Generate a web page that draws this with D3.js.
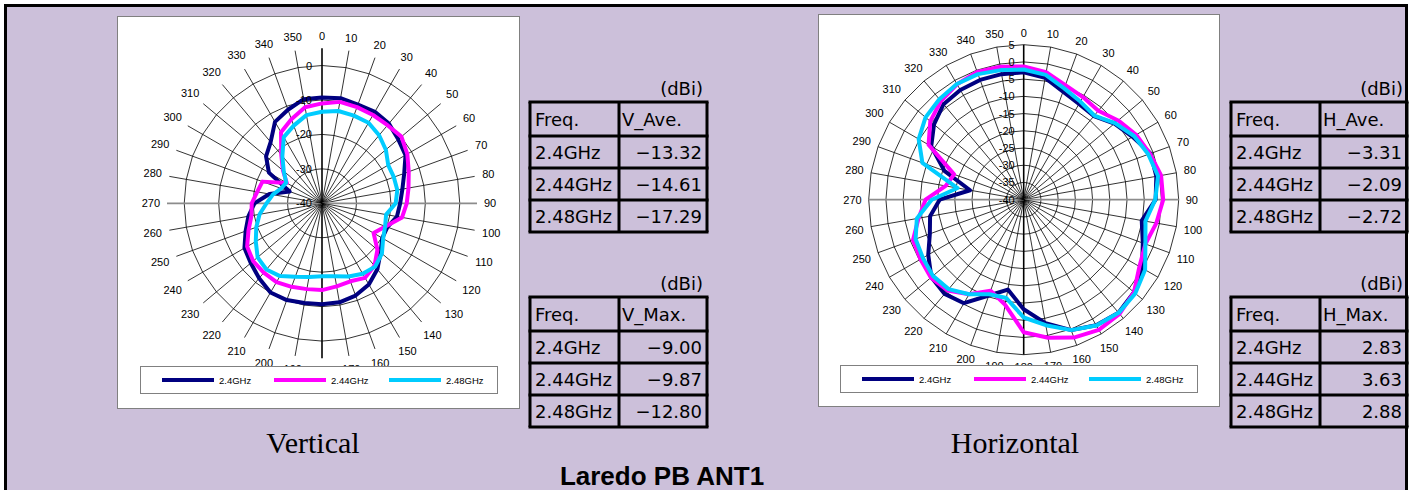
<!DOCTYPE html>
<html>
<head>
<meta charset="utf-8">
<script src="https://cdn.jsdelivr.net/npm/d3@7"></script>
<style>
  body { margin: 0; background: #fff; }
  svg { display: block; }
</style>
</head>
<body>
<svg id="sheet" width="1409" height="490"></svg>
<script>
// angle categories (degrees)
const angles = [0, 10, 20, 30, 40, 50, 60, 70, 80, 90, 100, 110, 120, 130, 140, 150, 160, 170,
  180, 190, 200, 210, 220, 230, 240, 250, 260, 270, 280, 290, 300, 310, 320, 330, 340, 350];

const freqs = ["2.4GHz", "2.44GHz", "2.48GHz"];

// vertical polarisation, dBi
const v24 = [-9.3, -9.0, -9.5, -9.3, -9.8, -11.1, -12.0, -14.6, -16.3, -17.3, -17.9, -19.8,
  -19.8, -17.8, -15.0, -12.8, -11.5, -10.8, -10.7, -10.6, -10.1, -10.1, -11.6, -13.0,
  -14.0, -16.4, -18.3, -20.4, -24.5, -30.0, -22.2, -18.8, -16.8, -12.7, -11.1, -9.3];
const v244 = [-11.0, -10.1, -10.3, -10.4, -10.4, -9.9, -11.4, -13.2, -14.5, -15.4, -16.4, -20.4,
  -22.7, -19.0, -16.3, -15.0, -15.9, -15.5, -14.8, -14.7, -14.2, -13.6, -13.7, -13.9,
  -14.9, -17.3, -19.2, -19.6, -20.9, -21.6, -28.2, -25.2, -21.6, -16.2, -14.0, -11.7];
const v248 = [-13.4, -12.8, -12.9, -13.0, -14.2, -15.8, -17.8, -17.8, -17.8, -18.6, -21.1, -20.5,
  -19.5, -17.3, -16.0, -16.4, -17.4, -18.5, -18.8, -18.3, -17.3, -15.6, -14.9, -15.6,
  -17.8, -19.7, -21.6, -23.9, -25.5, -27.4, -28.0, -25.5, -22.1, -17.8, -16.0, -14.0];

// horizontal polarisation, dBi
const h24 = [-3.0, -4.1, -6.6, -7.9, -8.3, -5.6, -3.5, -0.8, -0.9, -1.7, -5.2, -3.2,
  -0.3, 1.8, 2.83, 2.1, 0.3, -3.6, -8.2, -13.5, -10.4, -5.3, -4.3, -5.0,
  -8.0, -11.0, -12.4, -15.6, -24.2, -15.5, -9.0, -6.0, -3.8, -3.2, -3.0, -3.0];
const h244 = [-1.3, -2.4, -4.6, -5.6, -6.3, -4.2, -2.3, -1.0, 0.5, 0.5, -0.9, -2.4,
  -1.2, 1.8, 3.3, 3.63, 2.6, 0.7, -1.5, -9.0, -11.9, -8.3, -5.6, -4.8,
  -5.4, -5.8, -9.0, -11.5, -17.0, -18.5, -8.1, -4.6, -2.6, -1.3, -0.5, -0.8];
const h248 = [-2.2, -3.2, -5.6, -7.1, -8.1, -5.4, -3.0, -1.5, -0.4, -1.8, -4.1, -2.4,
  0.7, 2.3, 2.88, 2.2, 0.3, -3.0, -5.8, -11.0, -10.8, -8.3, -6.1, -5.6,
  -6.2, -6.6, -8.5, -13.3, -20.5, -8.7, -4.8, -2.8, -1.9, -1.2, -1.2, -1.8];

// radial tick labels
const vTicks = [-40, -30, -20, -10, 0];
const hTicks = [-40, -35, -30, -25, -20, -15, -10, -5, 0, 5];

// summary tables
const vAve = ["\u221213.32", "\u221214.61", "\u221217.29"];
const vMax = ["\u22129.00", "\u22129.87", "\u221212.80"];
const hAve = ["\u22123.31", "\u22122.09", "\u22122.72"];
const hMax = ["2.83", "3.63", "2.88"];

const colors = ["#000080", "#FF00FF", "#00CCFF"];

const svg = d3.select("#sheet");

// sheet background + heavy border
svg.append("rect")
  .attr("x", 5.5).attr("y", 5.5)
  .attr("width", 1401).attr("height", 520)
  .attr("fill", "#CCC0DA")
  .attr("stroke", "#000")
  .attr("stroke-width", 3);

function drawPolar(opt) {
  // white chart area
  svg.append("rect")
    .attr("x", opt.box[0] + 0.5).attr("y", opt.box[1] + 0.5)
    .attr("width", opt.box[2]).attr("height", opt.box[3])
    .attr("fill", "#fff")
    .attr("stroke", "#808080");

  const g = svg.append("g")
    .attr("transform", "translate(" + opt.cx + "," + opt.cy + ")");

  const r = d3.scaleLinear().domain([-40, 5]).range([0, 155]);
  const a = d3.scaleLinear().domain([0, 360]).range([0, 2 * Math.PI]);

  // rings
  const ring = d3.lineRadial()
    .angle((d) => a(d))
    .curve(d3.curveLinearClosed);
  opt.rings.forEach((t) => {
    g.append("path")
      .attr("d", ring.radius(r(t))(angles))
      .attr("fill", "none")
      .attr("stroke", "#000")
      .attr("stroke-width", 0.8);
  });

  // spokes
  g.selectAll(".spoke")
    .data(angles)
    .enter()
    .append("line")
    .attr("x1", 0).attr("y1", 0)
    .attr("x2", (d) => r(5) * Math.sin(a(d)))
    .attr("y2", (d) => -r(5) * Math.cos(a(d)))
    .attr("stroke", (d) => (d === 90 || d === 270 ? "#8c8c8c" : "#000"))
    .attr("stroke-width", (d) => (d % 180 === 0 ? 1.6 : d % 90 === 0 ? 1.8 : 0.8));

  // angle labels
  g.selectAll(".alab")
    .data(angles)
    .enter()
    .append("text")
    .attr("x", (d) => {
      const w = String(d).length * 6.1;
      const rr = 162 + (w / 2) * Math.abs(Math.sin(a(d))) + 5 * Math.abs(Math.cos(a(d)));
      return rr * Math.sin(a(d));
    })
    .attr("y", (d) => {
      const w = String(d).length * 6.1;
      const rr = 162 + (w / 2) * Math.abs(Math.sin(a(d))) + 5 * Math.abs(Math.cos(a(d)));
      return -rr * Math.cos(a(d)) + 4;
    })
    .attr("text-anchor", "middle")
    .attr("font-family", "Liberation Sans, Arial, sans-serif")
    .attr("font-size", 11)
    .text((d) => d);

  // series
  const line = d3.lineRadial()
    .angle((d, i) => a(angles[i]))
    .radius((d) => r(d))
    .curve(d3.curveLinearClosed);
  opt.series.forEach((s, i) => {
    g.append("path")
      .attr("d", line(s))
      .attr("fill", "none")
      .attr("stroke", colors[i])
      .attr("stroke-width", 4)
      .attr("stroke-linejoin", "round");
  });

  // radial value labels
  g.selectAll(".vlab")
    .data(opt.ticks)
    .enter()
    .append("text")
    .attr("x", opt.labelDx)
    .attr("y", (d) => -r(d) + 4)
    .attr("text-anchor", "end")
    .attr("font-family", "Liberation Sans, Arial, sans-serif")
    .attr("font-size", 11)
    .text((d) => d);

  // legend
  const lb = opt.legend;
  svg.append("rect")
    .attr("x", lb[0] + 0.5).attr("y", lb[1] + 0.5)
    .attr("width", 357).attr("height", 27)
    .attr("fill", "#fff")
    .attr("stroke", "#808080");
  const lx = [22, 134, 249];
  freqs.forEach((f, i) => {
    svg.append("line")
      .attr("x1", lb[0] + lx[i]).attr("x2", lb[0] + lx[i] + 52)
      .attr("y1", lb[1] + 14).attr("y2", lb[1] + 14)
      .attr("stroke", colors[i])
      .attr("stroke-width", 4);
    svg.append("text")
      .attr("x", lb[0] + lx[i] + 57)
      .attr("y", lb[1] + 17.5)
      .attr("font-family", "Liberation Sans, Arial, sans-serif")
      .attr("font-size", 9.5)
      .text(f);
  });
}

drawPolar({
  box: [117, 16, 402, 392],
  cx: 322, cy: 203.3,
  rings: [-30, -20, -10, 0],
  ticks: vTicks,
  labelDx: -10,
  series: [v24, v244, v248],
  legend: [140, 366],
});

drawPolar({
  box: [818, 14, 401, 392],
  cx: 1023.7, cy: 199.7,
  rings: [-35, -30, -25, -20, -15, -10, -5, 0, 5],
  ticks: hTicks,
  labelDx: -9,
  series: [h24, h244, h248],
  legend: [840, 365],
});

function drawTable(x0, col, x1, top, head, values) {
  const rows = [top, top + 34, top + 66, top + 98, top + 130];
  const font = "DejaVu Sans, Verdana, sans-serif";

  svg.append("text")
    .attr("x", x1 - 4)
    .attr("y", top - 7)
    .attr("text-anchor", "end")
    .attr("font-family", font)
    .attr("font-size", 18)
    .text("(dBi)");

  const t = svg.append("g")
    .attr("stroke", "#000")
    .attr("stroke-width", 3);
  rows.forEach((y) => {
    t.append("line").attr("x1", x0 - 1.5).attr("x2", x1 + 1.5).attr("y1", y).attr("y2", y);
  });
  [x0, col, x1].forEach((x) => {
    t.append("line").attr("x1", x).attr("x2", x).attr("y1", top).attr("y2", rows[4]);
  });

  const cells = [["Freq.", head]].concat(freqs.map((f, i) => [f, values[i]]));
  cells.forEach((c, i) => {
    const y = (rows[i] + rows[i + 1]) / 2 + 6.5;
    svg.append("text")
      .attr("x", x0 + 5).attr("y", y)
      .attr("font-family", font).attr("font-size", 18)
      .text(c[0]);
    svg.append("text")
      .attr("x", i === 0 ? col + 3 : x1 - 5)
      .attr("y", y)
      .attr("text-anchor", i === 0 ? "start" : "end")
      .attr("font-family", font).attr("font-size", 18)
      .text(c[1]);
  });
}

drawTable(530, 619, 707, 102, "V_Ave.", vAve);
drawTable(530, 619, 707, 297, "V_Max.", vMax);
drawTable(1231, 1320, 1407, 102, "H_Ave.", hAve);
drawTable(1231, 1320, 1407, 297, "H_Max.", hMax);

// captions
svg.append("text")
  .attr("x", 313).attr("y", 453)
  .attr("text-anchor", "middle")
  .attr("font-family", "Liberation Serif, Times New Roman, serif")
  .attr("font-size", 30)
  .text("Vertical");

svg.append("text")
  .attr("x", 1015).attr("y", 453)
  .attr("text-anchor", "middle")
  .attr("font-family", "Liberation Serif, Times New Roman, serif")
  .attr("font-size", 30)
  .text("Horizontal");

svg.append("text")
  .attr("x", 662).attr("y", 485)
  .attr("text-anchor", "middle")
  .attr("font-family", "Liberation Sans, Arial, sans-serif")
  .attr("font-weight", "bold")
  .attr("font-size", 26)
  .text("Laredo PB ANT1");
</script>
</body>
</html>
